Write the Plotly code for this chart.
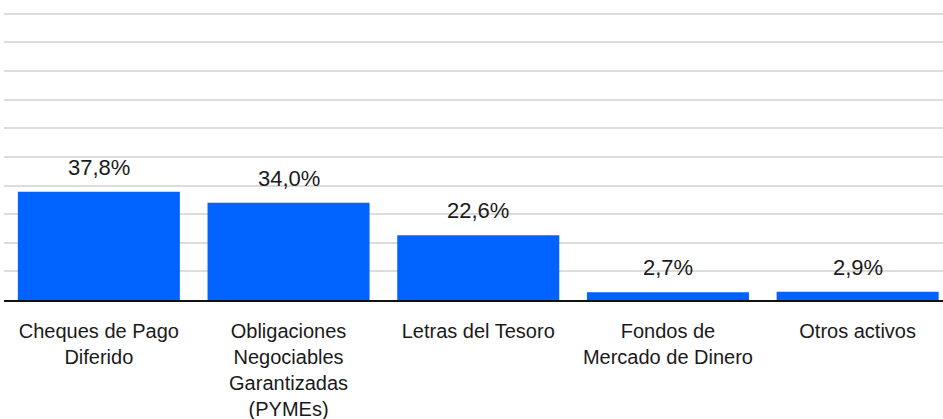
import plotly.graph_objects as go

categories = [
    "Cheques de Pago<br>Diferido",
    "Obligaciones<br>Negociables<br>Garantizadas<br>(PYMEs)",
    "Letras del Tesoro",
    "Fondos de<br>Mercado de Dinero",
    "Otros activos",
]
values = [37.8, 34.0, 22.6, 2.7, 2.9]
value_labels = ["37,8%", "34,0%", "22,6%", "2,7%", "2,9%"]

BAR_COLOR = "#0062ff"
FONT = "Liberation Sans, Arial, sans-serif"

fig = go.Figure()
fig.add_trace(go.Bar(
    x=list(range(len(categories))),
    y=values,
    marker=dict(color=BAR_COLOR, line=dict(width=0)),
    hoverinfo="skip",
))

for i, (v, t) in enumerate(zip(values, value_labels)):
    fig.add_annotation(
        x=i, y=v, text=t, showarrow=False,
        yanchor="bottom", xanchor="center", yshift=10,
        font=dict(family=FONT, size=22, color="#1a1a1a"),
    )

fig.update_layout(
    width=943, height=419,
    margin=dict(l=4, r=0, t=11, b=119),
    paper_bgcolor="white", plot_bgcolor="white",
    bargap=0.146,
    showlegend=False,
    font=dict(family=FONT, size=20, color="#1a1a1a"),
    xaxis=dict(
        tickmode="array",
        tickvals=list(range(len(categories))),
        ticktext=categories,
        range=[-0.5, 4.45],
        showgrid=False, zeroline=False,
        showline=True, linecolor="#111111", linewidth=2,
        ticks="", ticklabelstandoff=12,
        tickfont=dict(family=FONT, size=20, color="#1a1a1a"),
        automargin=False,
        fixedrange=True,
    ),
    yaxis=dict(
        range=[0, 101],
        dtick=10, tick0=0,
        showgrid=True, gridcolor="#dcdcdc", gridwidth=1.5,
        zeroline=False, showticklabels=False, ticks="",
        automargin=False,
        fixedrange=True,
    ),
)

fig.write_html(
    "out.html",
    config={"displayModeBar": False},
    post_script="document.body.style.margin='0';document.body.style.overflow='hidden';",
)
